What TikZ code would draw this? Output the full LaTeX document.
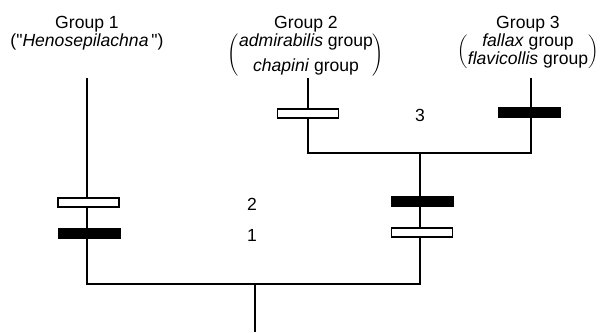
\documentclass[tikz,border=0pt]{standalone}
\usepackage{fontspec}
\setmainfont{Liberation Sans}
\usetikzlibrary{positioning}

\begin{document}
\begin{tikzpicture}[x=0.025cm,y=-0.025cm,every node/.style={font=\fontsize{12.5}{13.3}\selectfont, align=center, inner sep=0pt},
    branch/.style={line width=1.3pt},
    openbar/.style={draw,line width=1pt,fill=white,minimum width=1.52cm,minimum height=0.22cm},
    solidbar/.style={draw=black,fill=black,minimum width=1.55cm,minimum height=0.25cm}]
      \useasboundingbox (0,0) rectangle (600,332);

      \node[anchor=north] (g1) at (87,15.5) {
        Group 1\\ (\textquotedbl\textit{Henosepilachna}\,\textquotedbl)
      };
      \node[anchor=north] (g2) at (306,15.5) {
        Group 2\\ $\left(\begin{tabular}{@{}c@{}}\textit{admirabilis} group\\[5pt] \textit{chapini} group\end{tabular}\right)$
      };
      \node[anchor=north] (g3) at (528,15.5) {
        Group 3\\ $\left(\begin{tabular}{@{}c@{}}\textit{fallax} group\\ \textit{flavicollis} group\end{tabular}\right)$
      };

      \coordinate (top1) at (87,78);
      \coordinate (top2) at (308,78);
      \coordinate (top3) at (531,78);
      \coordinate (fork23) at (420,153);
      \coordinate (fork) at (255,284);
      \coordinate (base) at (255,332);

      \draw[branch] (top1) |- (fork) -| (fork23);
      \draw[branch] (top2) |- (fork23) -| (top3);
      \draw[branch] (fork) -- (base);

      \node[openbar] (w1) at (88.5,202.5) {};
      \node[solidbar] (b1) at (89,233.5) {};
      \node[openbar] (w2) at (308,113.5) {};
      \node[solidbar] (b3) at (529,112.5) {};
      \node[solidbar] (bm) at (422,201) {};
      \node[openbar] (wm) at (422,232.5) {};

      \node (n2) at (252,204) {2};
      \node (n1) at (252,235) {1};
      \node (n3) at (420,115) {3};
    \end{tikzpicture}
\end{document}
